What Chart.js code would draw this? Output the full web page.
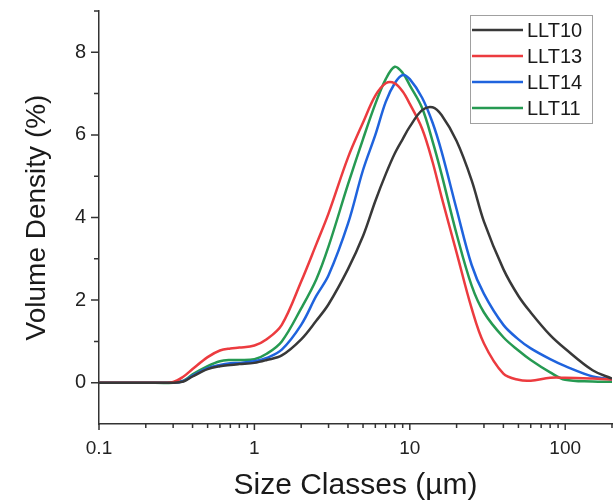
<!DOCTYPE html>
<html>
<head>
<meta charset="utf-8">
<script src="https://cdn.jsdelivr.net/npm/chart.js@4"></script>
<style>
  html, body { margin: 0; padding: 0; background: #fff; overflow: hidden; width: 613px; height: 504px; }
  /* the plot runs off the right edge, as in the picture */
  canvas { display: block; position: relative; top: -14px; }
</style>
</head>
<body>
<canvas id="psd" width="625" height="518"></canvas>
<script>
// size classes (µm) and volume density (%)
const sizes = [0.1, 0.2, 0.3, 0.35, 0.4, 0.5, 0.6, 0.7, 0.8, 1, 1.2, 1.5, 2, 2.5, 3, 4, 5, 6, 7, 8, 9, 10, 12, 14, 16, 20, 25, 30, 40, 50, 60, 80, 100, 150, 200];
const llt10 = [0, 0, 0, 0.03, 0.15, 0.33, 0.40, 0.43, 0.45, 0.48, 0.55, 0.66, 1.05, 1.5, 1.9, 2.75, 3.55, 4.4, 5.05, 5.55, 5.9, 6.2, 6.6, 6.67, 6.48, 5.85, 4.9, 3.9, 2.75, 2.1, 1.7, 1.15, 0.82, 0.3, 0.1];
const llt13 = [0, 0, 0.02, 0.15, 0.33, 0.62, 0.78, 0.83, 0.85, 0.9, 1.05, 1.4, 2.45, 3.35, 4.1, 5.45, 6.3, 6.95, 7.25, 7.25, 7.05, 6.75, 6.15, 5.35, 4.5, 3.15, 1.8, 0.95, 0.22, 0.07, 0.05, 0.12, 0.12, 0.1, 0.08];
const llt14 = [0, 0, 0, 0.04, 0.17, 0.35, 0.43, 0.47, 0.48, 0.52, 0.6, 0.8, 1.4, 2.1, 2.6, 3.85, 5.15, 6.0, 6.8, 7.25, 7.45, 7.35, 6.9, 6.3, 5.6, 4.2, 2.85, 2.15, 1.4, 1.05, 0.83, 0.57, 0.4, 0.15, 0.08];
const llt11 = [0, 0, 0, 0.05, 0.2, 0.4, 0.52, 0.55, 0.55, 0.57, 0.7, 1.0, 1.8, 2.5, 3.3, 4.8, 5.9, 6.75, 7.35, 7.65, 7.5, 7.2, 6.65, 5.85, 5.05, 3.6, 2.35, 1.7, 1.1, 0.78, 0.55, 0.25, 0.07, 0.03, 0.02];

const seriesNames = ['LLT10', 'LLT13', 'LLT14', 'LLT11'];
const seriesColors = ['#383838', '#ec3b3f', '#1f63dd', '#269a52'];

const xTicks = [0.1, 0.2, 0.3, 0.4, 0.5, 0.6, 0.7, 0.8, 0.9, 1, 2, 3, 4, 5, 6, 7, 8, 9, 10, 20, 30, 40, 50, 60, 70, 80, 90, 100, 200];
const xTickLabels = { 0.1: '0.1', 1: '1', 10: '10', 100: '100' };
const yTickLabels = { 0: '0', 2: '2', 4: '4', 6: '6', 8: '8' };

const FONT = "'Liberation Sans', Arial, sans-serif";
const AXIS = '#333';

function pts(values) {
    return sizes.map((s, i) => ({ x: s, y: values[i] }));
}

// tick marks: long ones at labelled values, short ones elsewhere, pointing out
const tickMarks = {
    id: 'tickMarks',
    afterDraw(chart) {
        const { ctx, scales: { x, y } } = chart;
        ctx.save();
        ctx.strokeStyle = AXIS;
        ctx.lineWidth = 1.5;
        ctx.beginPath();
        x.ticks.forEach(t => {
            const px = x.getPixelForValue(t.value);
            const len = xTickLabels[t.value] ? 6 : 4;
            ctx.moveTo(px, x.top);
            ctx.lineTo(px, x.top + len);
        });
        y.ticks.forEach(t => {
            if (t.value < 0) return;
            const py = y.getPixelForValue(t.value);
            const len = yTickLabels[t.value] !== undefined ? 8 : 5;
            ctx.moveTo(y.right, py);
            ctx.lineTo(y.right - len, py);
        });
        ctx.stroke();
        ctx.restore();
    }
};

// boxed legend in the upper right corner (canvas sits 14px higher than the page)
const boxLegend = {
    id: 'boxLegend',
    afterDraw(chart) {
        const ctx = chart.ctx;
        const left = 470, top = 29, w = 122, h = 108, rowH = 26;
        ctx.save();
        ctx.fillStyle = '#fff';
        ctx.fillRect(left, top, w, h);
        ctx.strokeStyle = '#a0a0a0';
        ctx.lineWidth = 1;
        ctx.strokeRect(left + 0.5, top + 0.5, w, h);
        ctx.font = '20px ' + FONT;
        ctx.textBaseline = 'middle';
        chart.data.datasets.forEach((ds, i) => {
            const cy = top + 15 + i * rowH;
            ctx.strokeStyle = ds.borderColor;
            ctx.lineWidth = 2.5;
            ctx.beginPath();
            ctx.moveTo(left + 2, cy);
            ctx.lineTo(left + 53, cy);
            ctx.stroke();
            ctx.fillStyle = '#1a1a1a';
            ctx.fillText(ds.label, left + 57, cy + 1);
        });
        ctx.restore();
    }
};

new Chart(document.getElementById('psd'), {
    type: 'line',
    data: {
        datasets: [llt10, llt13, llt14, llt11].map((vals, i) => ({
            label: seriesNames[i],
            data: pts(vals),
            borderColor: seriesColors[i],
            backgroundColor: seriesColors[i],
            borderWidth: 2.5,
            pointRadius: 0,
            fill: false,
            tension: 0.35
        }))
    },
    options: {
        responsive: false,
        animation: false,
        layout: { padding: { top: 10, right: 0, bottom: 0, left: 0 } },
        plugins: {
            legend: { display: false },
            tooltip: { enabled: false }
        },
        scales: {
            x: {
                type: 'logarithmic',
                min: 0.1,
                max: 200,
                afterBuildTicks: axis => { axis.ticks = xTicks.map(v => ({ value: v })); },
                afterFit: axis => { axis.height = 80; },
                grid: { display: false, drawTicks: false },
                border: { color: AXIS, width: 1.5 },
                ticks: {
                    autoSkip: false,
                    maxRotation: 0,
                    padding: 13,
                    color: '#222',
                    font: { family: FONT, size: 19 },
                    callback: v => xTickLabels[v] || ''
                },
                title: {
                    display: true,
                    text: 'Size Classes (µm)',
                    color: '#1a1a1a',
                    font: { family: FONT, size: 30 },
                    padding: { top: 0, bottom: 0 }
                }
            },
            y: {
                min: -1,
                max: 9,
                afterFit: axis => { axis.width = 99; },
                grid: { display: false, drawTicks: false },
                border: { color: AXIS, width: 1.5 },
                ticks: {
                    stepSize: 1,
                    padding: 13,
                    color: '#222',
                    font: { family: FONT, size: 20 },
                    callback: v => yTickLabels[v] || ''
                },
                title: {
                    display: true,
                    text: 'Volume Density (%)',
                    color: '#1a1a1a',
                    font: { family: FONT, size: 28 },
                    padding: { top: 20, bottom: 0 }
                }
            }
        }
    },
    plugins: [tickMarks, boxLegend]
});
</script>
</body>
</html>
